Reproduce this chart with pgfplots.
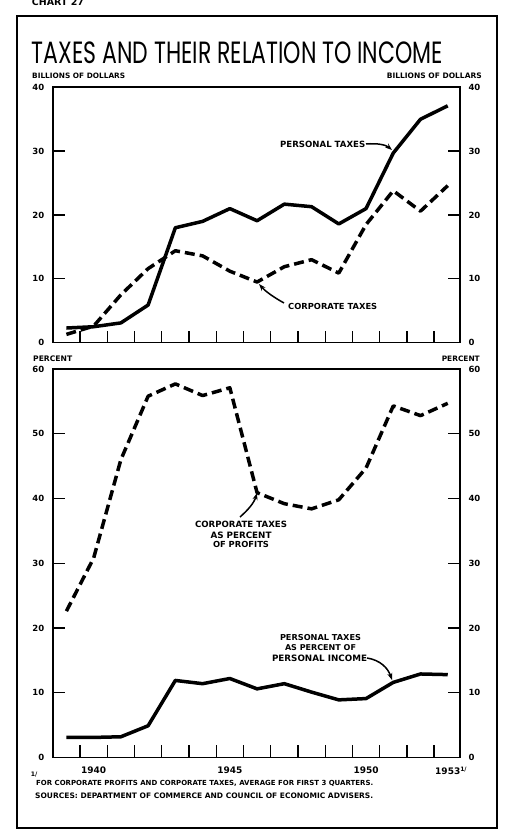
\documentclass[border=0pt]{standalone}
\usepackage{pgfplots}
\pgfplotsset{compat=1.18}
\usepackage{fontspec}
\setmainfont{DejaVu Sans}
\newfontfamily\titlefont{Poppins}
\usetikzlibrary{arrows.meta}
\newcommand{\lbl}[2]{\resizebox{#1pt}{!}{\bfseries #2}}
\pgfplotsset{
  panel/.style={
    scale only axis, anchor=south west,
    xmin=1938.497, xmax=1953.45,
    axis line style={line width=1.6pt},
    tick style={line width=1.3pt, black},
    major tick length=12pt,
    tick align=inside,
    xtick={1939.5,1940.5,...,1952.5},
    xticklabels={},
    xtick pos=bottom,
    ytick pos=both,
    yticklabel pos=left,
    /pgf/number format/assume math mode=true,
    yticklabel style={font=\fontsize{8.5}{9}\selectfont\bfseries, xshift=-5pt},
    clip=false,
  },
  rightlab/.style={
    scale only axis, anchor=south west,
    xmin=1938.497, xmax=1953.45,
    axis y line*=right, axis x line=none,
    axis line style={draw=none},
    major tick length=0pt,
    /pgf/number format/assume math mode=true,
    yticklabel style={font=\fontsize{8.5}{9}\selectfont\bfseries, xshift=5pt},
  },
  solidline/.style={line width=3.5pt, black, line join=round, no marks},
  dashline/.style={line width=3.5pt, black, dash pattern=on 10pt off 5pt, line join=round, no marks},
}
\begin{document}
\begin{tikzpicture}[x=1pt,y=1pt]
\path[use as bounding box] (0,0) rectangle (513,837);
% outer frame
\draw[line width=2pt] (17,821) rectangle (497,9);
% header texts
\node at (58,835) {\lbl{52}{CHART 27}};
\node at (237.5,784.5) {\resizebox{411pt}{21.7pt}{\titlefont TAXES AND THEIR RELATION TO INCOME}};
\node[anchor=west,inner sep=0pt] at (32,761) {\lbl{93}{BILLIONS OF DOLLARS}};
\node[anchor=east,inner sep=0pt] at (482,761) {\lbl{95}{BILLIONS OF DOLLARS}};
\node[anchor=west,inner sep=0pt] at (33,478) {\lbl{39}{PERCENT}};
\node[anchor=east,inner sep=0pt] at (480,478) {\lbl{38}{PERCENT}};

% ---------- top panel ----------
\begin{axis}[panel, at={(52.7pt,494.3pt)}, width=407.3pt, height=255.4pt,
  ymin=0, ymax=40, ytick={0,10,20,30,40}]
\addplot[solidline] coordinates {(1939,2.3)(1940,2.5)(1941,3.1)(1942,5.9)(1943,18.0)(1944,19.0)(1945,21.0)(1946,19.1)(1947,21.7)(1948,21.3)(1949,18.6)(1950,21.0)(1951,29.7)(1952,35.0)(1953,37.1)};
\addplot[dashline] coordinates {(1939,1.3)(1940,2.6)(1941,7.5)(1942,11.6)(1943,14.4)(1944,13.6)(1945,11.2)(1946,9.5)(1947,11.9)(1948,13.0)(1949,10.9)(1950,18.5)(1951,23.8)(1952,20.6)(1953,24.6)};
\end{axis}
\begin{axis}[rightlab, at={(52.7pt,494.3pt)}, width=407.3pt, height=255.4pt,
  ymin=0, ymax=40, ytick={0,10,20,30,40}]
\end{axis}

% ---------- bottom panel ----------
\begin{axis}[panel, at={(52.7pt,79.5pt)}, width=407.3pt, height=388.5pt,
  ymin=0, ymax=60, ytick={0,10,20,30,40,50,60},
  extra x ticks={1940,1945,1950,1953},
  extra x tick labels={1940,1945,1950,{1953\rlap{\raisebox{3pt}{\fontsize{6}{6}\selectfont\bfseries 1/}}}},
  extra x tick style={major tick length=0pt, xticklabel style={font=\fontsize{9}{9}\selectfont\bfseries, yshift=-6pt}}]
\addplot[dashline] coordinates {(1939,22.6)(1940,30.8)(1941,46.0)(1942,55.8)(1943,57.7)(1944,55.9)(1945,57.1)(1946,40.9)(1947,39.2)(1948,38.4)(1949,39.8)(1950,44.7)(1951,54.3)(1952,52.8)(1953,54.7)};
\addplot[solidline] coordinates {(1939,3.1)(1940,3.1)(1941,3.2)(1942,4.9)(1943,11.9)(1944,11.4)(1945,12.2)(1946,10.6)(1947,11.4)(1948,10.1)(1949,8.9)(1950,9.1)(1951,11.6)(1952,12.9)(1953,12.8)};
\end{axis}
\begin{axis}[rightlab, at={(52.7pt,79.5pt)}, width=407.3pt, height=388.5pt,
  ymin=0, ymax=60, ytick={0,10,20,30,40,50,60}]
\end{axis}

% ---------- annotations ----------
\node[anchor=west,inner sep=0pt] at (280,693) {\lbl{85}{PERSONAL TAXES}};
\draw[line width=1.5pt,-{Stealth[length=7pt,width=5pt]}] (366,693) .. controls (378,694) and (386,692) .. (392,687);
\node[anchor=west,inner sep=0pt] at (288,531) {\lbl{89}{CORPORATE TAXES}};
\draw[line width=1.5pt,-{Stealth[length=7pt,width=5pt]}] (284,534) .. controls (275,539) and (266,545) .. (259,553);

\node[inner sep=0pt] at (241,313) {\lbl{92}{CORPORATE TAXES}};
\node[inner sep=0pt] at (241,302) {\lbl{61}{AS PERCENT}};
\node[inner sep=0pt] at (241,293) {\lbl{56}{OF PROFITS}};
\draw[line width=1.5pt,-{Stealth[length=7pt,width=5pt]}] (240,320) .. controls (248,327) and (254,334) .. (257,344);

\node[inner sep=0pt] at (320.5,199) {\lbl{81}{PERSONAL TAXES}};
\node[inner sep=0pt] at (320.5,189) {\lbl{71}{AS PERCENT OF}};
\node[inner sep=0pt] at (319.5,179) {\lbl{95}{PERSONAL INCOME}};
\draw[line width=1.5pt,-{Stealth[length=7pt,width=5pt]}] (367,179) .. controls (380,177) and (388,169) .. (392,157);

% ---------- footnotes ----------
\node[inner sep=0pt] at (34,62) {\lbl{6.5}{1/}};
\node[anchor=west,inner sep=0pt] at (36,54) {\lbl{337}{FOR CORPORATE PROFITS AND CORPORATE TAXES, AVERAGE FOR FIRST 3 QUARTERS.}};
\node[anchor=west,inner sep=0pt] at (35,41) {\lbl{338}{SOURCES: DEPARTMENT OF COMMERCE AND COUNCIL OF ECONOMIC ADVISERS.}};
\end{tikzpicture}
\end{document}
